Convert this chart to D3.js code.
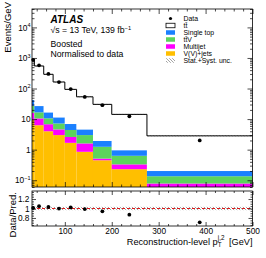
<!DOCTYPE html>
<html><head><meta charset="utf-8">
<script src="https://cdn.jsdelivr.net/npm/d3@7"></script>
<style>
body{margin:0;background:#fff}
svg{display:block}
text{font-family:"Liberation Sans",Arial,Helvetica,sans-serif;fill:#000}
</style>
</head><body>
<svg id="c" width="266" height="258"></svg>
<script>
// ---------------- data ----------------
const binEdges   = [30, 35, 55, 75, 100, 125, 160, 200, 275, 500];
const dataVals   = [869, 574, 301, 163, 96, 53, 28.5, 12.4, 2.0];
const ttbar      = [818, 520, 275, 152, 87, 49, 28.4, 13.3, 2.63];
const singleTop  = [15, 10.1, 6.0, 4.2, 2.5, 1.6, 0.70, 0.33, 0.065];
const ttV        = [11, 6.1, 3.8, 2.6, 1.8, 1.4, 0.73, 0.30, 0.057];
const multijet   = [6.5, 4.2, 2.8, 1.6, 0.93, 0.75, 0.06, 0.10, 0.048];
const vjets      = [9.5, 6.3, 4.0, 3.0, 1.67, 0.85, 0.45, 0.23, 0.03];
const relUnc     = [0.035, 0.035, 0.035, 0.035, 0.035, 0.035, 0.035, 0.035, 0.035];
const xTickLabels = [100, 200, 300, 400, 500];
const yTicksMain  = [0.1, 1, 10, 100, 1000, 10000];
const yTicksRatio = [0.8, 1, 1.2];
const legendLabels = ["Data", "t\u0074\u0304", "Single top", "t\u0074\u0304V", "Multijet", "V(V)+jets", "Stat.+Syst. unc."];

// ---------------- layout ----------------
const L = 32, R = 252.5;
const mT = 9, mB = 187;
const rT = 191, rB = 226;
const colors = {vjets:"#ffbf00", multijet:"#ff00ff", ttV:"#5cd45c", singleTop:"#1a80ff", ttbar:"#ffffff"};
const keys = ["vjets","multijet","ttV","singleTop","ttbar"];
const series = {vjets, multijet, ttV, singleTop, ttbar};

const svg = d3.select("#c");
const defs = svg.append("defs");
const pat = defs.append("pattern").attr("id","hatch").attr("patternUnits","userSpaceOnUse")
  .attr("width",3).attr("height",3);
pat.append("path").attr("d","M-1,-1 L4,4 M-1,2 L1,4 M2,-1 L4,1").attr("stroke","#666").attr("stroke-width",0.6);
defs.append("clipPath").attr("id","clipM").append("rect").attr("x",L).attr("y",mT).attr("width",R-L).attr("height",mB-mT);
defs.append("clipPath").attr("id","clipR").append("rect").attr("x",L).attr("y",rT).attr("width",R-L).attr("height",rB-rT);

const x = d3.scaleLinear().domain([30,500]).range([L,R]);
const y = d3.scaleLog().domain([0.06,4e4]).range([mB,mT]).clamp(true);
const yr = d3.scaleLinear().domain([0.63,1.37]).range([rB,rT]);

const rows = dataVals.map((d,i)=>{
  const o = {i, x0:binEdges[i], x1:binEdges[i+1]};
  keys.forEach(k=>o[k]=series[k][i]);
  return o;
});
const stack = d3.stack().keys(keys)(rows);
const total = rows.map(r=>keys.reduce((s,k)=>s+r[k],0));

// ---------------- main panel ----------------
const gm = svg.append("g").attr("clip-path","url(#clipM)");
stack.forEach(layer=>{
  gm.append("g").selectAll("rect").data(layer).join("rect")
    .attr("x",d=>x(d.data.x0)).attr("width",d=>x(d.data.x1)-x(d.data.x0))
    .attr("y",d=>y(d[1])).attr("height",d=>y(Math.max(d[0],0.06))-y(d[1]))
    .attr("fill",colors[layer.key]);
});
// uncertainty band
gm.append("g").selectAll("rect").data(rows).join("rect")
  .attr("x",d=>x(d.x0)).attr("width",d=>x(d.x1)-x(d.x0))
  .attr("y",d=>y(total[d.i]*(1+relUnc[d.i]))).attr("height",d=>y(total[d.i]*(1-relUnc[d.i]))-y(total[d.i]*(1+relUnc[d.i])))
  .attr("fill","url(#hatch)");
// step outline of total prediction
let p = d3.path();
rows.forEach((d,i)=>{
  if(i===0) p.moveTo(x(d.x0), y(total[i])); else p.lineTo(x(d.x0), y(total[i]));
  p.lineTo(x(d.x1), y(total[i]));
});
gm.append("path").attr("d",p.toString()).attr("fill","none").attr("stroke","#000").attr("stroke-width",1);
// data points
svg.append("g").selectAll("circle").data(rows).join("circle")
  .attr("cx",d=>x((d.x0+d.x1)/2)).attr("cy",d=>y(dataVals[d.i])).attr("r",1.9).attr("fill","#000");

// ---------------- ratio panel ----------------
const gr = svg.append("g").attr("clip-path","url(#clipR)");
gr.append("g").selectAll("rect").data(rows).join("rect")
  .attr("x",d=>x(d.x0)).attr("width",d=>x(d.x1)-x(d.x0))
  .attr("y",d=>yr(1+relUnc[d.i])).attr("height",d=>yr(1-relUnc[d.i])-yr(1+relUnc[d.i]))
  .attr("fill","url(#hatch)");
gr.append("line").attr("x1",L).attr("x2",R).attr("y1",yr(1)).attr("y2",yr(1))
  .attr("stroke","#e00000").attr("stroke-width",0.9).attr("stroke-dasharray","3,2");
svg.append("g").selectAll("circle").data(rows).join("circle")
  .attr("cx",d=>x((d.x0+d.x1)/2)).attr("cy",d=>yr(dataVals[d.i]/total[d.i])).attr("r",1.9).attr("fill","#000");

// ---------------- axes ----------------
const xMinor = d3.range(40,500,20).filter(v=>v%100!==0);
function styleAxis(g){ g.select(".domain").remove(); g.selectAll(".tick line").attr("stroke","#000").attr("stroke-width",0.7); }
function xAxes(top,bottom,maj,min,labels){
  svg.append("g").attr("transform",`translate(0,${bottom})`).call(d3.axisBottom(x).tickValues(xTickLabels).tickSize(-maj).tickPadding(2.5).tickFormat(labels?d3.format("d"):"")).call(styleAxis)
    .selectAll("text").attr("font-size",8.3).attr("font-family","Liberation Sans, Arial, sans-serif");
  svg.append("g").attr("transform",`translate(0,${bottom})`).call(d3.axisBottom(x).tickValues(xMinor).tickSize(-min).tickFormat("")).call(styleAxis);
  svg.append("g").attr("transform",`translate(0,${top})`).call(d3.axisTop(x).tickValues(xTickLabels).tickSize(-maj).tickFormat("")).call(styleAxis);
  svg.append("g").attr("transform",`translate(0,${top})`).call(d3.axisTop(x).tickValues(xMinor).tickSize(-min).tickFormat("")).call(styleAxis);
}
xAxes(mT,mB,5,2.5,false);
xAxes(rT,rB,4,2,true);

// main y (log)
const yMinor = [];
[0.01,0.1,1,10,100,1000,10000].forEach(dec=>{ for(let k=2;k<=9;k++){ const v=dec*k; if(v>=0.06&&v<=4e4) yMinor.push(v);} });
const yl = svg.append("g").attr("transform",`translate(${L},0)`).call(d3.axisLeft(y).tickValues(yTicksMain).tickSize(-5).tickPadding(1.5).tickFormat(()=>"")).call(styleAxis);
yl.selectAll(".tick text").each(function(d){
  const t = d3.select(this).attr("font-size",8.3).attr("font-family","Liberation Sans, Arial, sans-serif");
  const e = Math.round(Math.log10(d));
  if(e===0){ t.text("1"); }
  else if(e===1){ t.text("10"); }
  else { t.append("tspan").text("10"); t.append("tspan").attr("font-size",5.5).attr("dy",-3.5).text(String(e).replace("-","\u2212")); }
});
svg.append("g").attr("transform",`translate(${L},0)`).call(d3.axisLeft(y).tickValues(yMinor).tickSize(-2.5).tickFormat("")).call(styleAxis);
svg.append("g").attr("transform",`translate(${R},0)`).call(d3.axisRight(y).tickValues(yTicksMain).tickSize(-5).tickFormat("")).call(styleAxis);
svg.append("g").attr("transform",`translate(${R},0)`).call(d3.axisRight(y).tickValues(yMinor).tickSize(-2.5).tickFormat("")).call(styleAxis);

// ratio y
const rMinor = d3.range(0.65,1.36,0.05).map(v=>+v.toFixed(2)).filter(v=>!yTicksRatio.some(t=>Math.abs(t-v)<1e-6));
svg.append("g").attr("transform",`translate(${L},0)`).call(d3.axisLeft(yr).tickValues(yTicksRatio).tickSize(-4).tickPadding(2.5).tickFormat(d=>d===1?"1":d3.format(".1f")(d))).call(styleAxis)
  .selectAll("text").attr("font-size",8.3).attr("font-family","Liberation Sans, Arial, sans-serif");
svg.append("g").attr("transform",`translate(${L},0)`).call(d3.axisLeft(yr).tickValues(rMinor).tickSize(-2).tickFormat("")).call(styleAxis);
svg.append("g").attr("transform",`translate(${R},0)`).call(d3.axisRight(yr).tickValues(yTicksRatio).tickSize(-4).tickFormat("")).call(styleAxis);
svg.append("g").attr("transform",`translate(${R},0)`).call(d3.axisRight(yr).tickValues(rMinor).tickSize(-2).tickFormat("")).call(styleAxis);

// frames
svg.append("rect").attr("x",L).attr("y",mT).attr("width",R-L).attr("height",mB-mT).attr("fill","none").attr("stroke","#000").attr("stroke-width",0.8);
svg.append("rect").attr("x",L).attr("y",rT).attr("width",R-L).attr("height",rB-rT).attr("fill","none").attr("stroke","#000").attr("stroke-width",0.8);

// axis titles
svg.append("text").attr("transform","translate(10.5,2) rotate(-90)").attr("text-anchor","end").attr("font-size",9.5).text("Events/GeV");
svg.append("text").attr("transform",`translate(15.5,${rT+1}) rotate(-90)`).attr("text-anchor","end").attr("font-size",9.5).text("Data/Pred.");
const xt = svg.append("text").attr("x",R).attr("y",244.5).attr("text-anchor","end").attr("font-size",9.2);
xt.append("tspan").text("Reconstruction-level p");
xt.append("tspan").attr("font-size",6.3).attr("dy",2).text("T");
xt.append("tspan").attr("font-size",6.3).attr("dx",-3.8).attr("dy",-6.8).text("j,2");
xt.append("tspan").attr("dy",4.8).text("\u2002[GeV]");

// labels
svg.append("text").attr("x",50.5).attr("y",23).attr("font-size",10).attr("font-weight","bold").attr("font-style","italic").text("ATLAS");
const sq = svg.append("text").attr("x",50.5).attr("y",33).attr("font-size",8.7);
sq.append("tspan").text("\u221As = 13 TeV, 139 fb");
sq.append("tspan").attr("font-size",5.7).attr("dy",-3.5).text("\u22121");
svg.append("text").attr("x",50.5).attr("y",46.5).attr("font-size",8.7).text("Boosted");
svg.append("text").attr("x",50.5).attr("y",57).attr("font-size",8.7).text("Normalised to data");

// legend
const lg = svg.append("g");
const ly0 = 18.5, ldy = 7.0, lbx = 166, lbw = 9, lbh = 4.5, ltx = 183.5;
const lfill = [null, colors.ttbar, colors.singleTop, colors.ttV, colors.multijet, colors.vjets, "url(#hatch)"];
legendLabels.forEach((lab,i)=>{
  const cy = ly0 + i*ldy;
  if(i===0){
    lg.append("circle").attr("cx",lbx+lbw/2).attr("cy",cy).attr("r",1.6).attr("fill","#000");
  } else {
    lg.append("rect").attr("x",lbx).attr("y",cy-lbh/2).attr("width",lbw).attr("height",lbh)
      .attr("fill",lfill[i]).attr("stroke",i===1?"#000":"none").attr("stroke-width",0.8);
  }
  lg.append("text").attr("x",ltx).attr("y",cy+2.4).attr("font-size",6.9).text(lab);
});
</script>
</body></html>
